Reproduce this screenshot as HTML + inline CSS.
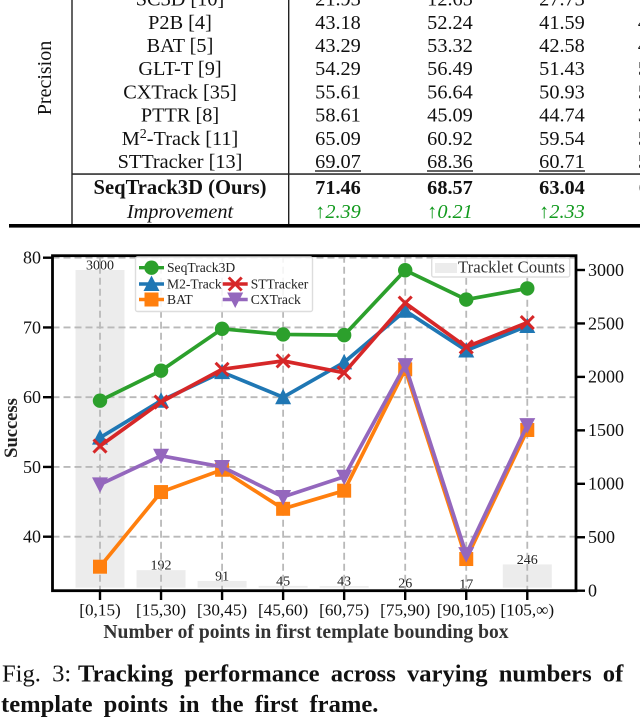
<!DOCTYPE html>
<html lang="en">
<head>
<meta charset="utf-8">
<title>Tracking performance across template points</title>
<style>
html,body{margin:0;padding:0;background:#fff;}
body{width:640px;height:719px;overflow:hidden;}
svg{display:block;font-family:"Liberation Serif",serif;filter:blur(0.35px);}
</style>
</head>
<body>
<svg id="page" xmlns="http://www.w3.org/2000/svg" width="640" height="719" viewBox="0 0 640 719">
  <rect width="640" height="719" fill="#fff"/>
  <g id="results-table" font-size="20.3" fill="#111" text-anchor="middle">
    <text x="51" y="78" transform="rotate(-90 51 78)" font-size="20">Precision</text>
    <rect x="71.3" y="0" width="1.4" height="226" fill="#222"/>
    <rect x="288" y="0" width="1.4" height="226" fill="#222"/>
    <rect x="72" y="173.3" width="568" height="1.5" fill="#222"/>
    <rect x="9" y="224" width="631" height="3.6" fill="#000"/>
    <g><text x="180" y="5.5">SC3D [10]</text><text x="338" y="5.5">21.93</text><text x="450" y="5.5">12.65</text><text x="562" y="5.5">27.73</text><text x="645" y="5.5">2</text></g>
    <g><text x="180" y="28.8">P2B [4]</text><text x="338" y="28.8">43.18</text><text x="450" y="28.8">52.24</text><text x="562" y="28.8">41.59</text><text x="643" y="28.8">4</text></g>
    <g><text x="180" y="52">BAT [5]</text><text x="338" y="52">43.29</text><text x="450" y="52">53.32</text><text x="562" y="52">42.58</text><text x="643" y="52">4</text></g>
    <g><text x="180" y="75.2">GLT-T [9]</text><text x="338" y="75.2">54.29</text><text x="450" y="75.2">56.49</text><text x="562" y="75.2">51.43</text><text x="643" y="75.2">5</text></g>
    <g><text x="180" y="98.4">CXTrack [35]</text><text x="338" y="98.4">55.61</text><text x="450" y="98.4">56.64</text><text x="562" y="98.4">50.93</text><text x="643" y="98.4">5</text></g>
    <g><text x="180" y="121.6">PTTR [8]</text><text x="338" y="121.6">58.61</text><text x="450" y="121.6">45.09</text><text x="562" y="121.6">44.74</text><text x="643" y="121.6">3</text></g>
    <g><text x="180" y="144.8">M<tspan font-size="14" dy="-7">2</tspan><tspan dy="7">-Track [11]</tspan></text><text x="338" y="144.8">65.09</text><text x="450" y="144.8">60.92</text><text x="562" y="144.8">59.54</text><text x="643" y="144.8">5</text></g>
    <g><text x="180" y="168">STTracker [13]</text><text x="338" y="168">69.07</text><text x="450" y="168">68.36</text><text x="562" y="168">60.71</text><text x="643" y="168">5</text>
      <rect x="315" y="170.3" width="46" height="1.4" fill="#222"/><rect x="427" y="170.3" width="46" height="1.4" fill="#222"/><rect x="539" y="170.3" width="46" height="1.4" fill="#222"/></g>
    <g font-weight="bold"><text x="180" y="194" font-size="20.6">SeqTrack3D (Ours)</text><text x="338" y="194">71.46</text><text x="450" y="194">68.57</text><text x="562" y="194">63.04</text><text x="644" y="194">6</text></g>
    <g><text x="180" y="218" font-style="italic">Improvement</text>
      <g fill="#129a1e" font-style="italic"><text x="338" y="218">↑2.39</text><text x="450" y="218">↑0.21</text><text x="562" y="218">↑2.33</text><text x="646" y="218">↑</text></g></g>
  </g>
  <g id="chart"></g>
  <g font-size="24.6" fill="#111" word-spacing="5">
    <text x="2" y="681.5">Fig. 3:</text>
    <text x="78" y="681.5" font-weight="bold">Tracking performance across varying numbers of</text>
    <text x="1" y="712" font-weight="bold">template points in the first frame.</text>
  </g>
</svg>
<script>
const categories = ["[0,15)", "[15,30)", "[30,45)", "[45,60)", "[60,75)", "[75,90)", "[90,105)", "[105,∞)"];
const trackletCounts = [3000, 192, 91, 45, 43, 26, 17, 246];
const seqTrack3D = [59.5, 63.8, 69.8, 69.0, 68.9, 78.2, 74.0, 75.6];
const m2Track = [54.2, 59.5, 63.6, 60.0, 65.0, 72.4, 66.7, 70.2];
const stTracker = [53.0, 59.3, 64.0, 65.2, 63.5, 73.5, 67.2, 70.7];
const bat = [35.7, 46.4, 49.6, 44.0, 46.6, 64.0, 36.8, 55.3];
const cxTrack = [47.5, 51.6, 50.0, 45.7, 48.6, 64.6, 37.5, 56.0];
const leftTicks = [40, 50, 60, 70, 80];
const rightTicks = [0, 500, 1000, 1500, 2000, 2500, 3000];

const NS = "http://www.w3.org/2000/svg";
const chart = document.getElementById("chart");
const plot = {left: 52.5, right: 576, top: 255.7, bottom: 590.7};
const xScale = i => 100 + 61.04 * i;
const yLeft = v => 257.7 + (80 - v) * 6.975;
const yRight = v => 590.7 - v * 0.10690;

function add(tag, attrs, parent, text) {
  const el = document.createElementNS(NS, tag);
  for (const k in attrs) el.setAttribute(k, attrs[k]);
  if (text !== undefined) el.textContent = text;
  (parent || chart).appendChild(el);
  return el;
}

// count bars
categories.forEach((c, i) => {
  const top = yRight(trackletCounts[i]);
  const bar = add("rect", {x: xScale(i) - 24.5, y: top, width: 49, height: Math.max(0, plot.bottom - 3 - top), fill: "#ececec"});
  
  
  const lab = add("text", {x: xScale(i), y: top - 0.5, "font-size": 14, "text-anchor": "middle", fill: "#222"}, chart, String(trackletCounts[i]));
  
  
});

// grid
leftTicks.forEach(t => {
  const g = add("line", {x1: plot.left, x2: plot.right, y1: yLeft(t), y2: yLeft(t), stroke: "#b9b9b9", "stroke-width": 1.8, "stroke-dasharray": "7 4"});
  
  
});
categories.forEach((c, i) => {
  const g = add("line", {x1: xScale(i), x2: xScale(i), y1: plot.top, y2: plot.bottom, stroke: "#b9b9b9", "stroke-width": 1.8, "stroke-dasharray": "7 4"});
  
  
});

function drawMarker(kind, x, y, color, parent) {
  if (kind === "circle") return add("circle", {cx: x, cy: y, r: 7.2, fill: color}, parent);
  if (kind === "square") return add("rect", {x: x - 7, y: y - 7, width: 14, height: 14, fill: color}, parent);
  if (kind === "up") return add("polygon", {points: `${x},${y - 8.5} ${x + 8},${y + 7} ${x - 8},${y + 7}`, fill: color}, parent);
  if (kind === "down") return add("polygon", {points: `${x},${y + 8.5} ${x + 8},${y - 7} ${x - 8},${y - 7}`, fill: color}, parent);
  return add("path", {d: `M${x - 6.5} ${y - 6.5}L${x + 6.5} ${y + 6.5}M${x - 6.5} ${y + 6.5}L${x + 6.5} ${y - 6.5}`, stroke: color, "stroke-width": 3, fill: "none"}, parent);
}

const seriesList = [
  {name: "SeqTrack3D", values: seqTrack3D, color: "#2ca02c", marker: "circle"},
  {name: "M2-Track", values: m2Track, color: "#1f77b4", marker: "up"},
  {name: "STTracker", values: stTracker, color: "#d62728", marker: "x"},
  {name: "BAT", values: bat, color: "#ff7f0e", marker: "square"},
  {name: "CXTrack", values: cxTrack, color: "#9467bd", marker: "down"}
];
seriesList.forEach(s => {
  const grp = add("g", {});
  
  
  add("polyline", {points: s.values.map((v, i) => xScale(i) + "," + yLeft(v)).join(" "), fill: "none", stroke: s.color, "stroke-width": 3.7, "stroke-linejoin": "miter"}, grp);
  s.values.forEach((v, i) => drawMarker(s.marker, xScale(i), yLeft(v), s.color, grp));
});

// spines
const frame = add("rect", {x: plot.left, y: plot.top, width: plot.right - plot.left, height: plot.bottom - plot.top, fill: "none", stroke: "#000", "stroke-width": 2.8});



// ticks and tick labels
leftTicks.forEach(t => {
  add("line", {x1: 43, x2: plot.left, y1: yLeft(t), y2: yLeft(t), stroke: "#000", "stroke-width": 2.4});
  const l = add("text", {x: 41, y: yLeft(t) + 5.8, "font-size": 18, "text-anchor": "end", fill: "#111"}, chart, String(t));
  
  
});
rightTicks.forEach(t => {
  add("line", {x1: plot.right, x2: 585, y1: yRight(t), y2: yRight(t), stroke: "#000", "stroke-width": 2.4});
  const l = add("text", {x: 588, y: yRight(t) + 5.8, "font-size": 18, fill: "#111"}, chart, String(t));
  
  
});
categories.forEach((c, i) => {
  add("line", {x1: xScale(i), x2: xScale(i), y1: plot.bottom, y2: 600, stroke: "#000", "stroke-width": 2.4});
  const l = add("text", {x: xScale(i), y: 615.5, "font-size": 17.2, "text-anchor": "middle", fill: "#111"}, chart, c);
  
  
});

// axis titles
const xt = add("text", {x: 306, y: 638, "font-size": 19.6, "font-weight": "bold", "text-anchor": "middle", fill: "#333"}, chart, "Number of points in first template bounding box");


const yt = add("text", {x: 17, y: 428, "font-size": 18.5, "font-weight": "bold", "text-anchor": "middle", fill: "#222", transform: "rotate(-90 17 428)"}, chart, "Success");



// legends
const legendMain = add("g", {});


add("rect", {x: 135.5, y: 257, width: 177, height: 54.5, rx: 2, fill: "#fff", "fill-opacity": 0.85, stroke: "#ddd", "stroke-width": 1.4}, legendMain);
const legendLayout = [[0, 139, 267.7], [1, 139, 284], [2, 222.7, 284], [3, 139, 299.5], [4, 222.7, 299.5]];
legendLayout.forEach(e => {
  const s = seriesList[e[0]];
  const x0 = e[1], y0 = e[2];
  const entry = add("g", {}, legendMain);
  
  
  add("line", {x1: x0, x2: x0 + 25, y1: y0, y2: y0, stroke: s.color, "stroke-width": 3.4}, entry);
  drawMarker(s.marker, x0 + 12.5, y0, s.color, entry);
  add("text", {x: x0 + 28, y: y0 + 4.5, "font-size": 13.6, fill: "#222"}, entry, s.name);
});
const legendBars = add("g", {});


add("rect", {x: 431.7, y: 258, width: 138, height: 19, rx: 2, fill: "#fff", "fill-opacity": 0.85, stroke: "#ddd", "stroke-width": 1.4}, legendBars);
add("rect", {x: 435, y: 263, width: 22, height: 10, fill: "#ececec"}, legendBars);
add("text", {x: 458, y: 272.5, "font-size": 16.8, fill: "#333"}, legendBars, "Tracklet Counts");
</script>
</body>
</html>
